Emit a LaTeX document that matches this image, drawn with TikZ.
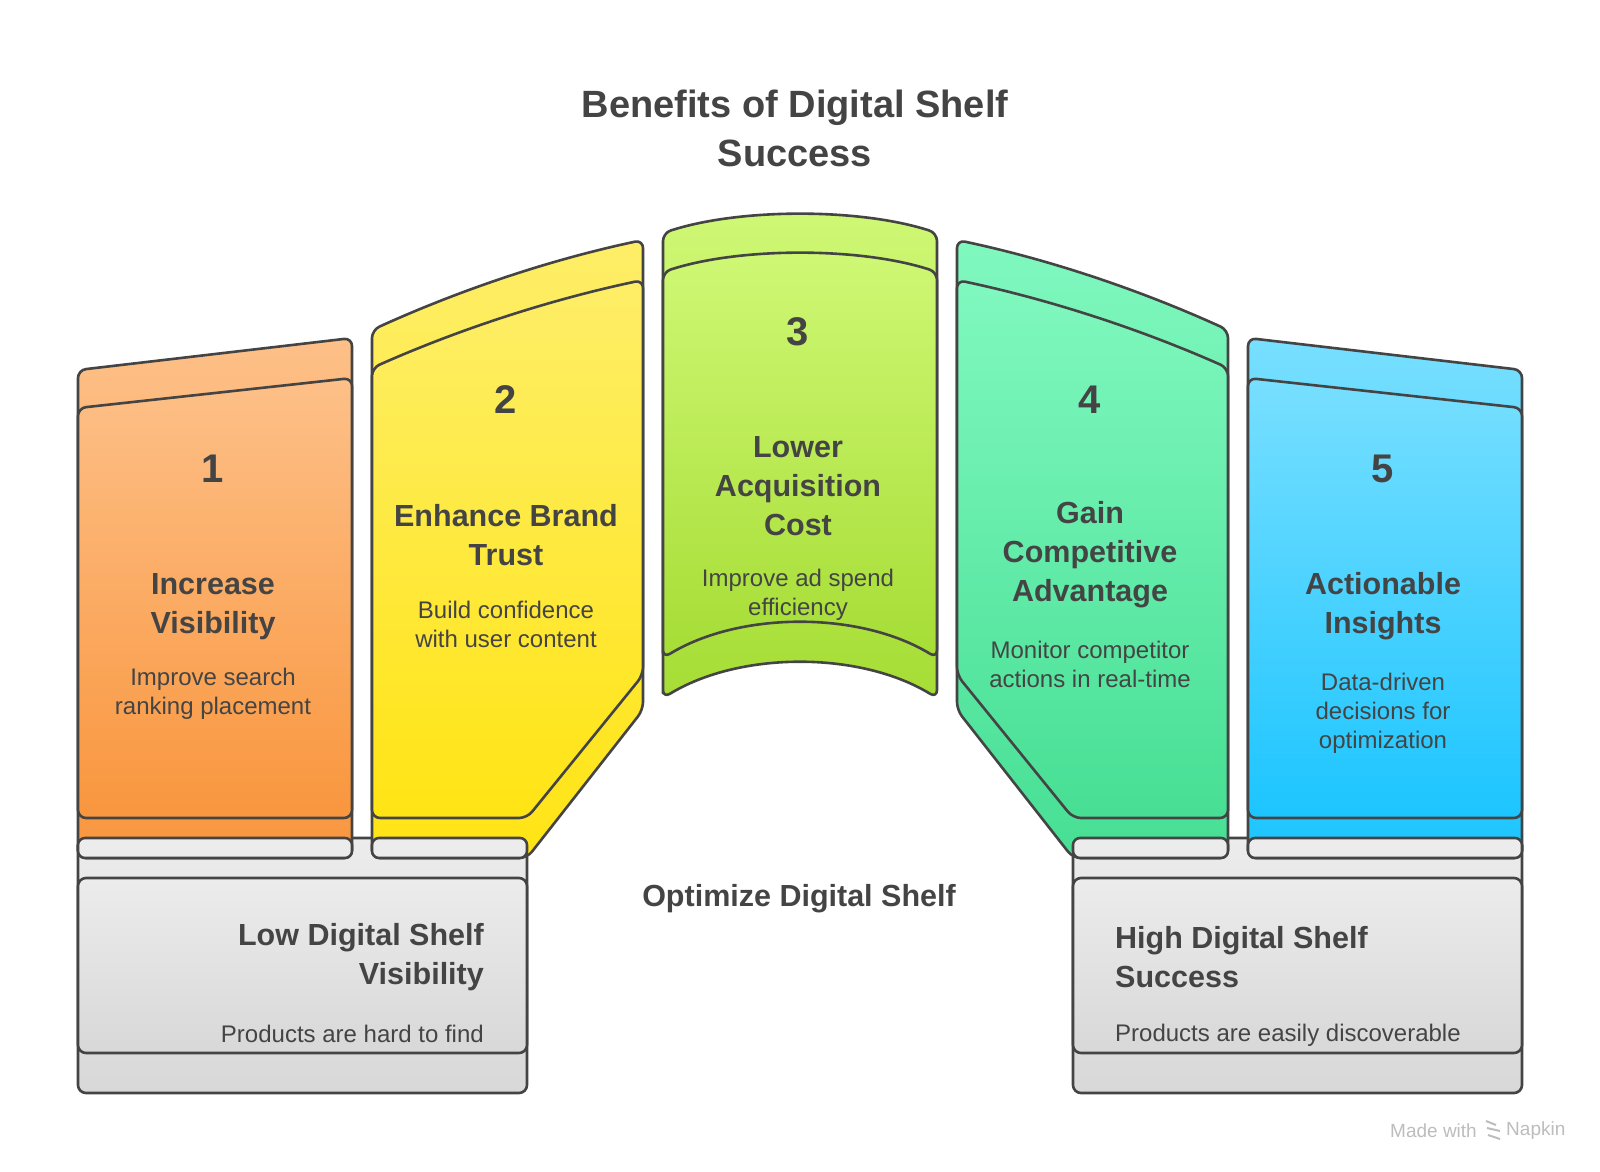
\documentclass[tikz,border=0pt]{standalone}
\usepackage{fontspec}
\setmainfont{Liberation Sans}
\usetikzlibrary{positioning}
\definecolor{dsInk}{HTML}{444444}
\definecolor{dsOrangeTop}{HTML}{FDC088}
\definecolor{dsOrangeBot}{HTML}{F9963E}
\definecolor{dsYellowTop}{HTML}{FEEE68}
\definecolor{dsYellowBot}{HTML}{FFE414}
\definecolor{dsLimeTop}{HTML}{CFF875}
\definecolor{dsLimeBot}{HTML}{A6DD35}
\definecolor{dsMintTop}{HTML}{80F8BF}
\definecolor{dsMintBot}{HTML}{47DF94}
\definecolor{dsSkyTop}{HTML}{78DFFF}
\definecolor{dsSkyBot}{HTML}{1CC5FF}
\definecolor{dsGreyTop}{HTML}{ECECEC}
\definecolor{dsGreyBot}{HTML}{D8D8D8}
\definecolor{dsCredit}{HTML}{BDBDBD}
\tikzset{
  shelfline/.style={draw=dsInk, line width=2.6pt, rounded corners=8pt, line join=round},
  card/.style 2 args={shelfline, top color=#1, bottom color=#2},
  tabbar/.style={shelfline, rounded corners=7pt, fill=dsGreyTop},
  basebox/.style={shelfline, top color=dsGreyTop, bottom color=dsGreyBot},
  titlelbl/.style={text=dsInk, align=center, inner sep=0pt, font=\fontsize{38}{49}\selectfont\bfseries},
  numlbl/.style={text=dsInk, inner sep=0pt, font=\fontsize{40}{48}\selectfont\bfseries},
  headlbl/.style={text=dsInk, align=center, inner sep=0pt, font=\fontsize{30.5}{39}\selectfont\bfseries},
  desclbl/.style={text=dsInk, align=center, inner sep=0pt, font=\fontsize{24}{29}\selectfont},
  credit/.style={text=dsCredit, inner sep=0pt, font=\fontsize{19}{22}\selectfont}
}
\begin{document}
\begin{tikzpicture}[x=1pt, y=-1pt]
  \useasboundingbox[fill=white] (0,0) rectangle (1600,1171);
  \node[titlelbl] (title) at (795,128) {Benefits of Digital Shelf\\Success};

  % base, back layer
  \draw[basebox] (78,838) rectangle (527,1093);
  \draw[basebox] (1073,838) rectangle (1522,1093);

  % cards, back layer
  \draw[card={dsOrangeTop}{dsOrangeBot}] (78,858) -- (78,370) -- (352,338) -- (352,858) -- cycle;
  \draw[card={dsYellowTop}{dsYellowBot}] (372,858) -- (372,330)
    .. controls (462,289) and (553,259) .. (643,240) -- (643,710) -- (527,858) -- cycle;
  \draw[card={dsLimeTop}{dsLimeBot}] (663,698) -- (663,233)
    .. controls (740,208) and (860,208) .. (937,233) -- (937,698)
    .. controls (860,651) and (740,651) .. (663,698) -- cycle;
  \draw[card={dsMintTop}{dsMintBot}] (1228,858) -- (1228,330)
    .. controls (1138,289) and (1047,259) .. (957,240) -- (957,710) -- (1073,858) -- cycle;
  \draw[card={dsSkyTop}{dsSkyBot}] (1248,858) -- (1248,338) -- (1522,370) -- (1522,858) -- cycle;

  % cards, front layer
  \draw[card={dsOrangeTop}{dsOrangeBot}] (78,818) -- (78,408) -- (352,378) -- (352,818) -- cycle;
  \draw[card={dsYellowTop}{dsYellowBot}] (372,818) -- (372,368)
    .. controls (462,328) and (553,299) .. (643,280) -- (643,675) -- (527,818) -- cycle;
  \draw[card={dsLimeTop}{dsLimeBot}] (663,658) -- (663,272)
    .. controls (740,247) and (860,247) .. (937,272) -- (937,658)
    .. controls (860,611) and (740,611) .. (663,658) -- cycle;
  \draw[card={dsMintTop}{dsMintBot}] (1228,818) -- (1228,368)
    .. controls (1138,328) and (1047,299) .. (957,280) -- (957,675) -- (1073,818) -- cycle;
  \draw[card={dsSkyTop}{dsSkyBot}] (1248,818) -- (1248,378) -- (1522,408) -- (1522,818) -- cycle;

  % tabs under the cards
  \foreach \xa/\xb in {78/352, 372/527, 1073/1228, 1248/1522}
    \draw[tabbar] (\xa,838) rectangle (\xb,858);

  % base, front layer
  \draw[basebox] (78,878) rectangle (527,1053);
  \draw[basebox] (1073,878) rectangle (1522,1053);

  % card texts
  \foreach \i/\x/\yn/\yh/\yd/\head/\desc in {
      1/213/469/607/694/{Increase\\Visibility}/{Improve search\\ranking placement},
      2/506/400/535/624/{Enhance Brand\\Trust}/{Build confidence\\with user content},
      3/798/332/486/595/{Lower\\Acquisition\\Cost}/{Improve ad spend\\efficiency},
      4/1090/400/555/664/{Gain\\Competitive\\Advantage}/{Monitor competitor\\actions in real-time},
      5/1383/469/606/713/{Actionable\\Insights}/{Data-driven\\decisions for\\optimization}}{
    \node[numlbl] (n\i) at (\x,\yn) {\i};
    \node[headlbl] (h\i) at (\x,\yh) {\head};
    \node[desclbl] (d\i) at (\x,\yd) {\desc};
  }

  % base texts
  \node[headlbl, align=right, anchor=east] (lowh) at (484,957) {Low Digital Shelf\\Visibility};
  \node[desclbl, anchor=east] (lowd) at (484,1034) {Products are hard to find};
  \node[headlbl, align=left, anchor=west] (highh) at (1115,957) {High Digital Shelf\\Success};
  \node[desclbl, anchor=west] (highd) at (1115,1035) {Products are easily discoverable};
  \node[headlbl] (optim) at (799,899) {Optimize Digital Shelf};

  % credit
  \node[credit, anchor=east] (made) at (1477,1131) {Made with};
  \draw[dsCredit, line width=2pt] (1486,1121) -- (1496,1125) (1487,1128) -- (1500,1131) (1488,1135) -- (1500,1139);
  \node[credit, anchor=west] (napkin) at (1506,1131) {Napkin};
\end{tikzpicture}
\end{document}
